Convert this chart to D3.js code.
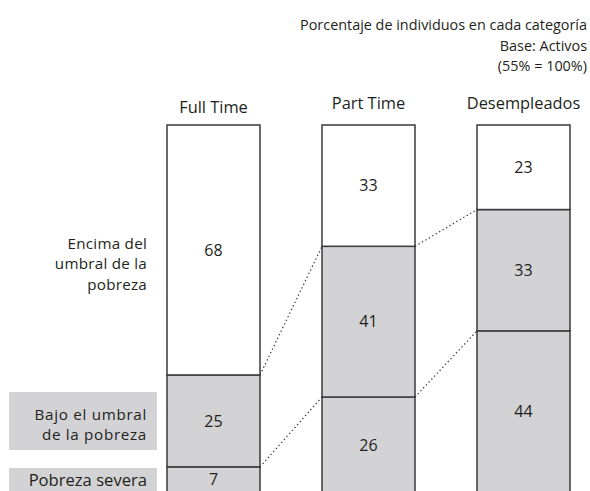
<!DOCTYPE html>
<html>
<head>
<meta charset="utf-8">
<script src="https://cdn.jsdelivr.net/npm/d3@7"></script>
<style>
  html, body { margin: 0; padding: 0; background: #fff; }
  svg { display: block; }
  text { font-family: "Open Sans", "Noto Sans", sans-serif; fill: #231f20; }
</style>
</head>
<body>
<svg id="chart" width="590" height="491"></svg>
<script>
// ---- data ----
const categories = ["Full Time", "Part Time", "Desempleados"];
const segments = ["Pobreza severa", "Bajo el umbral de la pobreza", "Encima del umbral de la pobreza"];
const severa = [7, 26, 44];
const bajo = [25, 41, 33];
const encima = [68, 33, 23];
const noteLines = ["Porcentaje de individuos en cada categoría", "Base: Activos", "(55% = 100%)"];
const leftLabelEncima = ["Encima del", "umbral de la", "pobreza"];
const leftLabelBajo = ["Bajo el umbral", "de la pobreza"];
const leftLabelSevera = ["Pobreza severa"];

const svg = d3.select("#chart");

const x = d3.scaleBand().domain(categories).range([167, 570]).paddingInner(0.4).paddingOuter(0);
const y = d3.scaleLinear().domain([100, 0]).range([125, 492.6]);

const rows = categories.map((c, i) => ({ cat: c, values: [severa[i], bajo[i], encima[i]] }));
const stack = d3.stack().keys([0, 1, 2]).value((d, k) => d.values[k]);
const series = stack(rows);
const fills = ["#d3d3d5", "#d3d3d5", "#ffffff"];

// dotted connectors between boundaries
const conn = svg.append("g");
[0, 1].forEach(k => {
  for (let i = 0; i < categories.length - 1; i++) {
    const y1 = y(series[k][i][1]);
    const y2 = y(series[k][i + 1][1]);
    conn.append("line")
      .attr("x1", x(categories[i]) + x.bandwidth()).attr("y1", y1)
      .attr("x2", x(categories[i + 1])).attr("y2", y2)
      .attr("stroke", "#3a3a3a").attr("stroke-width", 1.2)
      .attr("stroke-dasharray", "1.4,2.6");
  }
});

// segments
series.forEach((s, k) => {
  svg.append("g").selectAll("rect").data(s).join("rect")
    .attr("x", d => x(d.data.cat))
    .attr("y", d => y(d[1]))
    .attr("width", x.bandwidth())
    .attr("height", d => y(d[0]) - y(d[1]))
    .attr("fill", fills[k])
    .attr("stroke", "#3a3a3a")
    .attr("stroke-width", 1.5);
});

// value labels
series.forEach((s, k) => {
  svg.append("g").selectAll("text").data(s).join("text")
    .attr("x", d => x(d.data.cat) + x.bandwidth() / 2)
    .attr("y", d => (y(d[0]) + y(d[1])) / 2)
    .attr("dy", "0.36em")
    .attr("text-anchor", "middle")
    .attr("font-size", 16)
    .text(d => d.data.values[k]);
});

// category titles
const titleY = [112.5, 108.5, 108.5];
svg.append("g").selectAll("text").data(categories).join("text")
  .attr("x", d => x(d) + x.bandwidth() / 2)
  .attr("y", (d, i) => titleY[i])
  .attr("text-anchor", "middle")
  .attr("font-size", 16.4)
  .text(d => d);

// top-right note
svg.append("g").selectAll("text").data(noteLines).join("text")
  .attr("x", 587)
  .attr("y", (d, i) => 30 + i * 20.5)
  .attr("text-anchor", "end")
  .attr("font-size", 14.4)
  .text(d => d);

// left labels
const lx = 147;
function multiLine(lines, y0, lh, fs, ls) {
  svg.append("g").selectAll("text").data(lines).join("text")
    .attr("x", lx).attr("y", (d, i) => y0 + i * lh)
    .attr("text-anchor", "end").attr("font-size", fs)
    .attr("letter-spacing", ls)
    .text(d => d);
}

multiLine(leftLabelEncima, 248.5, 20.8, 15.2, 0.25);

svg.append("rect").attr("x", 9).attr("y", 392).attr("width", 148).attr("height", 58).attr("fill", "#d3d3d5");
multiLine(leftLabelBajo, 419.5, 20.8, 15.2, 0.7);

svg.append("rect").attr("x", 9).attr("y", 468).attr("width", 148).attr("height", 30).attr("fill", "#d3d3d5");
multiLine(leftLabelSevera, 486, 20.8, 16.6, 0);
</script>
</body>
</html>
